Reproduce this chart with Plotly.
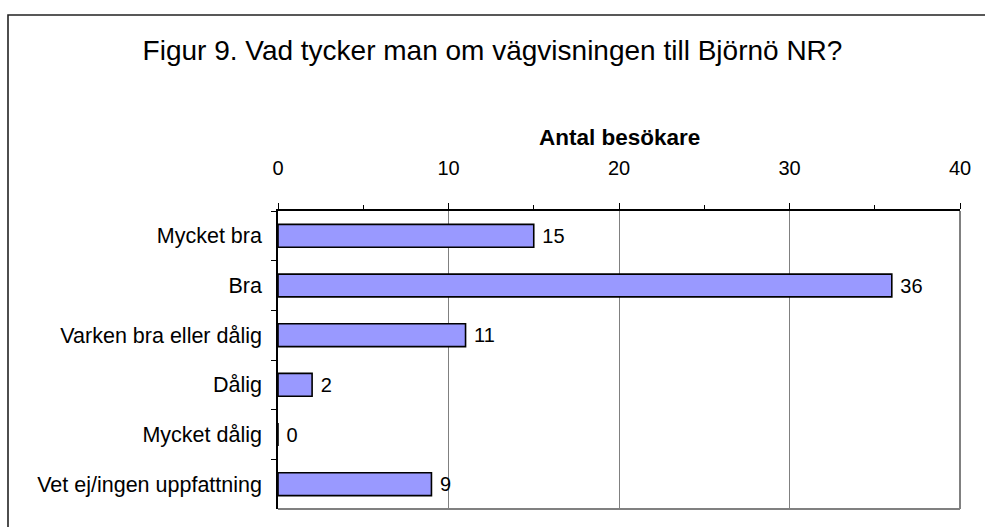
import plotly.graph_objects as go

categories = ["Mycket bra", "Bra", "Varken bra eller dålig", "Dålig", "Mycket dålig", "Vet ej/ingen uppfattning"]
values = [15, 36, 11, 2, 0, 9]
x_ticks = [0, 10, 20, 30, 40]

W, H = 985, 527
L, R, T, B = 278, 960, 211, 509
pw, ph = R - L, B - T

FONT = "Arial, 'Liberation Sans', sans-serif"

fig = go.Figure()
fig.add_trace(go.Bar(
    x=values, y=categories, orientation="h",
    marker=dict(color="#9999FF", line=dict(color="black", width=1.6)),
    text=["\u00a0" + str(v) for v in values],
    textposition="outside", cliponaxis=False,
    textfont=dict(family=FONT, size=20, color="black"),
    width=0.46,
))

fig.update_layout(
    width=W, height=H,
    margin=dict(l=L, r=W - R, t=T, b=H - B, pad=0),
    paper_bgcolor="white", plot_bgcolor="white",
    showlegend=False,
    font=dict(family=FONT, size=20, color="black"),
    title=dict(text="Figur 9. Vad tycker man om vägvisningen till Björnö NR?",
               x=0.5, xanchor="center", y=1 - 50 / H, yanchor="middle",
               font=dict(family=FONT, size=28, color="black")),
    xaxis=dict(
        side="top", range=[0, 40], tickvals=x_ticks, ticktext=[str(t) for t in x_ticks],
        showgrid=True, gridcolor="#808080", gridwidth=1,
        showline=True, linecolor="black", linewidth=1.5,
        ticks="outside", ticklen=6, tickcolor="black", tickwidth=1.2,
        minor=dict(tickvals=[5, 15, 25, 35], ticks="outside", ticklen=4, tickcolor="black", showgrid=False),
        ticklabelstandoff=20, zeroline=False,
        tickfont=dict(family=FONT, size=20, color="black"),
    ),
    yaxis=dict(
        categoryorder="array", categoryarray=categories, autorange="reversed",
        showline=True, linecolor="black", linewidth=1.5,
        ticks="outside", ticklen=5, tickcolor="black", tickson="boundaries",
        showgrid=False, zeroline=False, ticklabelstandoff=10,
        tickfont=dict(family=FONT, size=21.5, color="black"),
    ),
    annotations=[dict(text="<b>Antal besökare</b>", xref="paper", yref="paper",
                      x=0.5, y=(B - 137) / ph, xanchor="center", yanchor="middle",
                      showarrow=False, font=dict(family=FONT, size=22.5, color="black"))],
    shapes=[
        dict(type="line", xref="paper", yref="paper", x0=0, x1=1, y0=0, y1=0,
             line=dict(color="#808080", width=2)),
        dict(type="line", xref="paper", yref="paper", x0=1, x1=1, y0=0, y1=1,
             line=dict(color="#808080", width=2)),
        dict(type="rect", xref="paper", yref="paper",
             x0=(8 - L) / pw, x1=1.2, y0=-0.2, y1=(B - 15) / ph,
             line=dict(color="#222222", width=1.6), fillcolor="rgba(0,0,0,0)", layer="below"),
    ],
)

fig.write_html("out.html",
               config={"displayModeBar": False},
               post_script="document.body.style.margin='0';document.body.style.padding='0';"
                           "document.documentElement.style.overflow='hidden';")
